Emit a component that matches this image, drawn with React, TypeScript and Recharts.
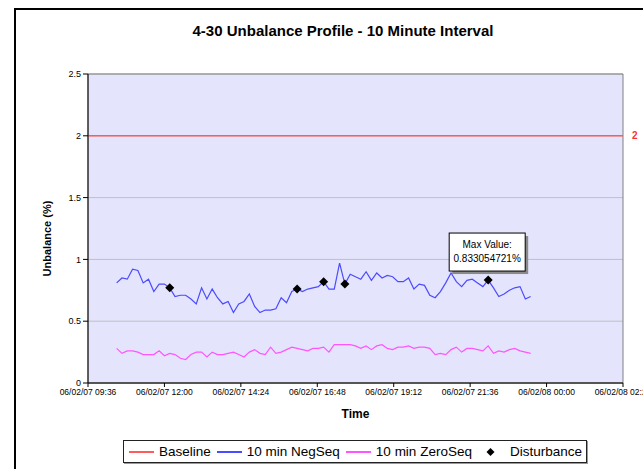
import React from "react";
import {
  ComposedChart,
  Line,
  Scatter,
  XAxis,
  YAxis,
  CartesianGrid,
  ReferenceLine,
  ReferenceArea,
  ReferenceDot,
} from "recharts";

// minutes since 06/02/07 00:00, one reading every 10 min from 10:30
const startMinute = 630;
const stepMinutes = 10;

const negSeq = [
  0.81, 0.85, 0.84, 0.92, 0.91, 0.81, 0.84, 0.74, 0.8, 0.8,
  0.77, 0.7, 0.71, 0.71, 0.68, 0.64, 0.77, 0.68, 0.76, 0.69,
  0.64, 0.66, 0.57, 0.64, 0.66, 0.72, 0.62, 0.57, 0.59, 0.59,
  0.6, 0.69, 0.65, 0.74, 0.76, 0.74, 0.76, 0.77, 0.78, 0.82,
  0.76, 0.76, 0.97, 0.8, 0.88, 0.86, 0.84, 0.9, 0.83, 0.89,
  0.85, 0.87, 0.86, 0.82, 0.82, 0.85, 0.76, 0.8, 0.79, 0.71,
  0.69, 0.74, 0.81, 0.89, 0.82, 0.78, 0.83, 0.84, 0.81, 0.78,
  0.833, 0.77, 0.7, 0.72, 0.75, 0.77, 0.78, 0.68, 0.7,
];

const zeroSeq = [
  0.28, 0.24, 0.26, 0.26, 0.25, 0.23, 0.23, 0.23, 0.26, 0.22,
  0.24, 0.23, 0.2, 0.19, 0.23, 0.25, 0.25, 0.21, 0.25, 0.23,
  0.23, 0.24, 0.25, 0.23, 0.21, 0.25, 0.27, 0.24, 0.23, 0.29,
  0.24, 0.25, 0.27, 0.29, 0.28, 0.27, 0.26, 0.28, 0.28, 0.29,
  0.25, 0.31, 0.31, 0.31, 0.31, 0.3, 0.28, 0.3, 0.27, 0.3,
  0.31, 0.28, 0.27, 0.29, 0.29, 0.3, 0.28, 0.29, 0.29, 0.28,
  0.23, 0.24, 0.23, 0.27, 0.29, 0.25, 0.28, 0.28, 0.27, 0.26,
  0.3, 0.24, 0.26, 0.25, 0.27, 0.28, 0.26, 0.25, 0.24,
];

const disturbanceTimes = [730, 970, 1020, 1060, 1330];
const disturbanceValues = [0.77, 0.76, 0.82, 0.8, 0.833];

const baselineValue = 2;
const xTicks = [576, 720, 864, 1008, 1152, 1296, 1440, 1584];
const yTicks = [0, 0.5, 1, 1.5, 2, 2.5];
const maxLabel = ["Max Value:", "0.833054721%"];

const legendItems = [
  { name: "Baseline", color: "#ff5b5b", kind: "line" },
  { name: "10 min NegSeq", color: "#4b4bff", kind: "line" },
  { name: "10 min ZeroSeq", color: "#ff55ff", kind: "line" },
  { name: "Disturbance", color: "#000", kind: "diamond" },
];

const FONT = "'Liberation Sans', Arial, sans-serif";

const negData = negSeq.map((v, i) => ({ t: startMinute + i * stepMinutes, v }));
const zeroData = zeroSeq.map((v, i) => ({ t: startMinute + i * stepMinutes, v }));
const baseData = [
  { t: xTicks[0], v: baselineValue },
  { t: xTicks[xTicks.length - 1], v: baselineValue },
];
const distData = disturbanceTimes.map((t, i) => ({ t, v: disturbanceValues[i] }));

const pad = (n: number) => String(n).padStart(2, "0");
const fmtTime = (m: number) => {
  const day = Math.floor(m / 1440);
  const rest = m - day * 1440;
  return `06/02/0${7 + day} ${pad(Math.floor(rest / 60))}:${pad(rest % 60)}`;
};

const Diamond = (p: any) => {
  const { cx, cy } = p;
  const r = 4.5;
  return <path d={`M${cx},${cy - r}L${cx + r},${cy}L${cx},${cy + r}L${cx - r},${cy}Z`} fill="#000" />;
};

const MaxBox = (p: any) => {
  const { cx, cy } = p;
  const w = 76;
  const h = 38;
  const x = cx - 39;
  const y = cy - 47;
  return (
    <g>
      <rect x={x + 3} y={y + 3} width={w} height={h} fill="#8a8a8a" />
      <rect x={x} y={y} width={w} height={h} fill="#fff" stroke="#000" strokeWidth={1} />
      <text x={x + w / 2} y={y + 15} textAnchor="middle" fontSize={10} fontFamily={FONT} fill="#000">
        {maxLabel[0]}
      </text>
      <text x={x + w / 2} y={y + 29} textAnchor="middle" fontSize={10} fontFamily={FONT} fill="#000">
        {maxLabel[1]}
      </text>
    </g>
  );
};

export default function App() {
  return (
    <div style={{ position: "absolute", left: 0, top: 0, width: 643, height: 469, overflow: "hidden", background: "#fff" }}>
      <div style={{ position: "absolute", left: 14, top: 8, width: 700, height: 500, border: "2px solid #000" }} />
      <div
        style={{
          position: "absolute",
          left: 0,
          width: 686,
          top: 22,
          textAlign: "center",
          fontFamily: FONT,
          fontWeight: "bold",
          fontSize: 15,
        }}
      >
        4-30 Unbalance Profile - 10 Minute Interval
      </div>
      <div style={{ position: "absolute", left: 0, top: 0 }}>
        <ComposedChart width={643} height={469} margin={{ top: 74, right: 20, bottom: 56, left: 48 }}>
          <CartesianGrid vertical={false} stroke="#c0c0c0" fill="#e4e4fc" />
          <ReferenceArea x1={xTicks[0]} x2={xTicks[xTicks.length - 1]} y1={0} y2={2.5} fill="none" stroke="#808080" />
          <XAxis
            dataKey="t"
            type="number"
            domain={[xTicks[0], xTicks[xTicks.length - 1]]}
            ticks={xTicks}
            interval={0}
            tickFormatter={fmtTime}
            tick={{ fontSize: 8.5, fill: "#000", fontFamily: FONT }}
            tickSize={4}
            tickLine={{ stroke: "#000" }}
            axisLine={{ stroke: "#000" }}
            height={30}
            label={{
              content: (p: any) => {
                const vb = p.viewBox || {};
                return (
                  <text x={vb.x + vb.width / 2} y={vb.y + 35} textAnchor="middle" fontFamily={FONT} fontWeight="bold" fontSize={12}>
                    Time
                  </text>
                );
              },
            }}
          />
          <YAxis
            type="number"
            domain={[0, 2.5]}
            ticks={yTicks}
            tickFormatter={(v: number) => String(v)}
            tick={{ fontSize: 9, fill: "#000", fontFamily: FONT }}
            tickSize={5}
            tickLine={{ stroke: "#000" }}
            axisLine={{ stroke: "#000" }}
            width={40}
            label={{
              content: (p: any) => {
                const vb = p.viewBox || {};
                const cx = vb.x - 1;
                const cy = vb.y + vb.height / 2 + 10;
                return (
                  <text
                    x={cx}
                    y={cy}
                    transform={`rotate(-90 ${cx} ${cy})`}
                    textAnchor="middle"
                    dominantBaseline="central"
                    fontFamily={FONT}
                    fontWeight="bold"
                    fontSize={11}
                  >
                    Unbalance (%)
                  </text>
                );
              },
            }}
          />
          <Line data={baseData} dataKey="v" stroke="#ff5b5b" strokeWidth={1.6} dot={false} isAnimationActive={false} />
          <Line data={zeroData} dataKey="v" stroke="#ff55ff" strokeWidth={1.2} dot={false} isAnimationActive={false} />
          <Line data={negData} dataKey="v" stroke="#4b4bff" strokeWidth={1.2} dot={false} isAnimationActive={false} />
          <Scatter data={distData} dataKey="v" shape={Diamond} isAnimationActive={false} />
          <ReferenceLine
            y={baselineValue}
            stroke="none"
            label={{ value: String(baselineValue), position: "right", offset: 9, fill: "#ff3030", fontSize: 10, fontFamily: FONT, fontWeight: "bold" }}
          />
          <ReferenceDot x={disturbanceTimes[4]} y={disturbanceValues[4]} r={0} shape={MaxBox} />
        </ComposedChart>
      </div>
      <div
        style={{
          position: "absolute",
          left: 123,
          top: 440,
          width: 464,
          height: 23,
          boxSizing: "border-box",
          border: "1px solid #222",
          boxShadow: "1px 1px 0 #999",
          display: "flex",
          alignItems: "center",
          paddingLeft: 5,
          fontFamily: FONT,
          fontSize: 13.5,
          background: "#fff",
          whiteSpace: "nowrap",
        }}
      >
        {legendItems.map((it) => (
          <div key={it.name} style={{ display: "flex", alignItems: "center", marginRight: 6 }}>
            <svg width={25} height={10} style={{ marginRight: it.kind === "diamond" ? 7 : 5 }}>
              {it.kind === "line" ? (
                <line x1={0} y1={5} x2={25} y2={5} stroke={it.color} strokeWidth={2} />
              ) : (
                <path d="M12.5,1L16.5,5L12.5,9L8.5,5Z" fill={it.color} />
              )}
            </svg>
            <span>{it.name}</span>
          </div>
        ))}
      </div>
    </div>
  );
}
